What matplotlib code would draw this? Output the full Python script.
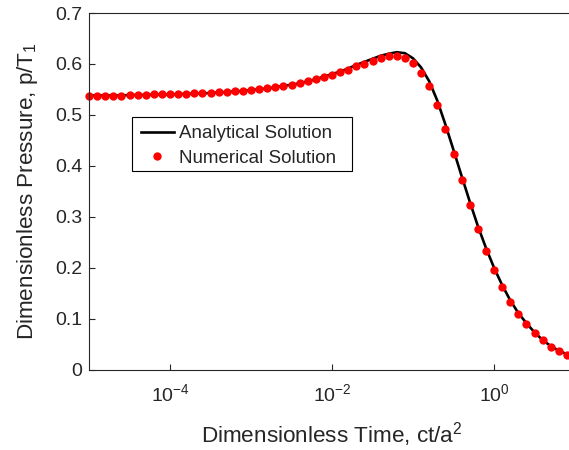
import numpy as np
import matplotlib
matplotlib.use('Agg')
import matplotlib.pyplot as plt
from matplotlib.patches import Rectangle

# log10 of dimensionless time, 0.1 decade spacing (-5.0 ... 0.9)
log_t_num = [-5.0 + 0.1 * k for k in range(60)]
p_num = [0.538, 0.538, 0.538, 0.538, 0.538, 0.539, 0.539, 0.539, 0.540, 0.540,
         0.540, 0.541, 0.541, 0.542, 0.542, 0.543, 0.544, 0.545, 0.546, 0.547,
         0.549, 0.550, 0.552, 0.554, 0.557, 0.559, 0.562, 0.566, 0.570, 0.575,
         0.579, 0.584, 0.589, 0.595, 0.600, 0.606, 0.611, 0.615, 0.616, 0.612,
         0.602, 0.583, 0.557, 0.519, 0.472, 0.423, 0.372, 0.323, 0.275, 0.233,
         0.196, 0.162, 0.133, 0.109, 0.089, 0.072, 0.057, 0.045, 0.036, 0.029]

# analytical curve (-5.0 ... 1.0)
log_t_ana = [-5.0 + 0.1 * k for k in range(61)]
p_ana = [0.538, 0.538, 0.538, 0.538, 0.538, 0.539, 0.539, 0.539, 0.540, 0.540,
         0.540, 0.541, 0.541, 0.542, 0.542, 0.543, 0.544, 0.545, 0.546, 0.547,
         0.549, 0.550, 0.552, 0.554, 0.557, 0.559, 0.562, 0.566, 0.570, 0.575,
         0.580, 0.585, 0.591, 0.598, 0.604, 0.610, 0.616, 0.620, 0.623, 0.621,
         0.611, 0.593, 0.566, 0.528, 0.481, 0.431, 0.380, 0.330, 0.282, 0.239,
         0.200, 0.166, 0.136, 0.111, 0.091, 0.073, 0.058, 0.046, 0.037, 0.030,
         0.024]

x_ticks = [1e-4, 1e-2, 1e0]
x_tick_labels = ['$10^{-4}$', '$10^{-2}$', '$10^{0}$']
y_ticks = [0, 0.1, 0.2, 0.3, 0.4, 0.5, 0.6, 0.7]
y_tick_labels = ['0', '0.1', '0.2', '0.3', '0.4', '0.5', '0.6', '0.7']

t_num = 10.0 ** np.array(log_t_num)
t_ana = 10.0 ** np.array(log_t_ana)

plt.rcParams['font.family'] = ['Liberation Sans', 'DejaVu Sans']
plt.rcParams['mathtext.default'] = 'regular'
txt = '#262626'

W, H = 569, 450
fig = plt.figure(figsize=(W / 100, H / 100), dpi=100)
ax = fig.add_axes([89 / W, 80.5 / H, 486 / W, 356.5 / H])

ax.plot(t_ana, p_ana, color='k', lw=1.9, label='Analytical Solution')
ax.plot(t_num, p_num, 'o', color='red', ms=6, mec='none', clip_on=False,
        label='Numerical Solution')

ax.set_xscale('log')
ax.set_xlim(1e-5, 1e1)
ax.set_ylim(0, 0.7)
ax.set_xticks(x_ticks)
ax.set_xticklabels(x_tick_labels)
ax.xaxis.set_minor_locator(matplotlib.ticker.NullLocator())
ax.set_yticks(y_ticks)
ax.set_yticklabels(y_tick_labels)
ax.tick_params(direction='in', length=4, width=0.8, colors=txt,
               labelsize=14, top=False, right=False)
ax.tick_params(axis='x', pad=10)
ax.tick_params(axis='y', pad=5)
for s in ax.spines.values():
    s.set_color(txt)
    s.set_linewidth(0.8)

ax.set_xlabel('Dimensionless Time, ct/a$^2$', fontsize=16.2, color=txt,
              labelpad=11)
ax.set_ylabel('Dimensionless Pressure, p/T$_1$', fontsize=16.2, color=txt,
              labelpad=11)

# legend box in MATLAB style
box = Rectangle((132 / W, 1 - 171 / H), 220 / W, 54 / H,
                transform=fig.transFigure, facecolor='white', edgecolor='k',
                lw=0.8, clip_on=False, zorder=5)
ax.add_artist(box)
leg = ax.legend(loc='upper left', bbox_to_anchor=(141 / W, 1 - 125 / H),
                bbox_transform=fig.transFigure, fontsize=13.5, frameon=False,
                handlelength=1.75, handletextpad=0.3, borderpad=0,
                labelspacing=0.4, borderaxespad=0)
leg.set_zorder(6)
for t in leg.get_texts():
    t.set_color(txt)

fig.savefig('out.png', dpi=100)
